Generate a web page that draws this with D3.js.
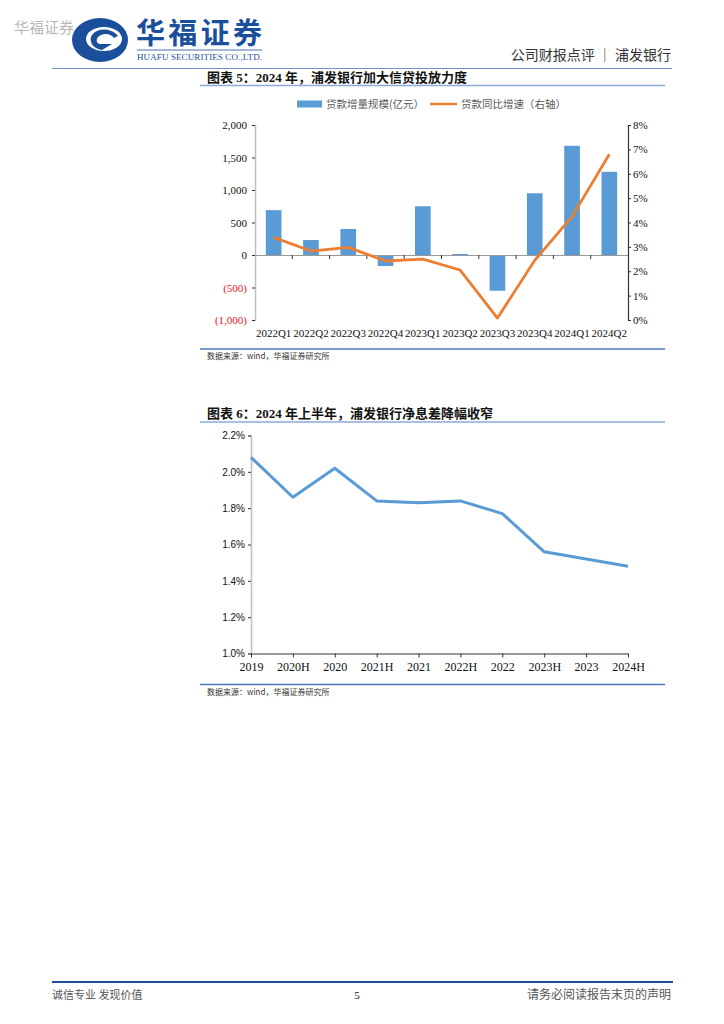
<!DOCTYPE html>
<html><head><meta charset="utf-8">
<script src="https://cdn.jsdelivr.net/npm/d3@7"></script>
<style>
body{margin:0;background:#fff;}
svg{display:block;}
</style></head>
<body>
<svg id="page" width="724" height="1024"></svg>
<script>
// ---------- DATA ----------
const quarters = ["2022Q1","2022Q2","2022Q3","2022Q4","2023Q1","2023Q2","2023Q3","2023Q4","2024Q1","2024Q2"];
const loanIncrease = [690, 230, 400, -170, 750, 15, -550, 950, 1680, 1280]; // 亿元
const loanGrowth = [3.39, 2.83, 2.98, 2.42, 2.50, 2.05, 0.08, 2.45, 4.24, 6.80]; // %
const leftTicks = [-1000, -500, 0, 500, 1000, 1500, 2000];
const rightTicks = [0,1,2,3,4,5,6,7,8];

const periods = ["2019","2020H","2020","2021H","2021","2022H","2022","2023H","2023","2024H"];
const nim = [2.08, 1.86, 2.02, 1.84, 1.83, 1.84, 1.77, 1.56, 1.52, 1.48]; // %
const nimTicks = [1.0,1.2,1.4,1.6,1.8,2.0,2.2];

const svg = d3.select("#page");
const CJK = "'Noto Sans CJK SC', sans-serif";
const SERIF = "'Liberation Serif', 'Times New Roman', 'Noto Sans CJK SC', serif";
const HEAD = "'Liberation Serif', 'Noto Sans CJK SC', serif";

// ---------- HEADER ----------
svg.append("text").attr("x",14).attr("y",33).attr("font-family",CJK).attr("font-size",15)
  .attr("fill","#b8b8b8").text("华福证券");
const logo = svg.append("g");
logo.append("ellipse").attr("cx",100).attr("cy",40).attr("rx",28).attr("ry",22).attr("fill","#1b4f9c");
logo.append("ellipse").attr("cx",104).attr("cy",39).attr("rx",18).attr("ry",12).attr("fill","#fff");
logo.append("path").attr("d","M118,36 C112,28 98,27 92,35 C88,41 93,49 102,50 L112,44 L100,44 C95,43 96,37 101,35 C106,33 111,34 114,38 Z").attr("fill","#1b4f9c");
svg.append("text").attr("x",136).attr("y",44).attr("font-family",CJK).attr("font-weight","bold")
  .attr("font-size",29).attr("fill","#1b4f9c").attr("textLength",126).text("华福证券");
svg.append("line").attr("x1",137).attr("x2",262).attr("y1",50).attr("y2",50).attr("stroke","#1b4f9c").attr("stroke-width",0.8);
svg.append("text").attr("x",137).attr("y",60).attr("font-family",SERIF).attr("font-size",9)
  .attr("fill","#1b4f9c").attr("textLength",125).text("HUAFU SECURITIES CO.,LTD.");
svg.append("text").attr("x",671).attr("y",60).attr("text-anchor","end").attr("font-family",CJK)
  .attr("font-size",14).attr("fill","#333").text("公司财报点评 ｜ 浦发银行");
svg.append("line").attr("x1",52).attr("x2",672).attr("y1",68.5).attr("y2",68.5).attr("stroke","#6f96d4").attr("stroke-width",1.2);

// ---------- CHART 5 ----------
svg.append("text").attr("x",207).attr("y",82).attr("font-family",HEAD).attr("font-weight","bold")
  .attr("font-size",13).attr("fill","#111").text("图表 5：2024 年，浦发银行加大信贷投放力度");
svg.append("line").attr("x1",200).attr("x2",665).attr("y1",85.5).attr("y2",85.5).attr("stroke","#8eaadb").attr("stroke-width",1.5);

// legend
svg.append("rect").attr("x",297).attr("y",100.5).attr("width",25).attr("height",7).attr("fill","#5b9bd5");
svg.append("text").attr("x",326).attr("y",108).attr("font-family",CJK).attr("font-size",10.5).attr("fill","#595959").text("贷款增量规模(亿元）");
svg.append("line").attr("x1",430).attr("x2",457).attr("y1",104).attr("y2",104).attr("stroke","#ed7d31").attr("stroke-width",2.5);
svg.append("text").attr("x",461).attr("y",108).attr("font-family",CJK).attr("font-size",10.5).attr("fill","#595959").text("贷款同比增速（右轴）");

const x1 = d3.scaleBand().domain(quarters).range([255,628]).padding(0);
const yL = d3.scaleLinear().domain([-1000,2000]).range([320,125]);
const yR = d3.scaleLinear().domain([0,8]).range([320,125]);

const g1 = svg.append("g");
// bars
const bw = x1.bandwidth()*0.42;
g1.selectAll("rect.bar").data(quarters).join("rect")
  .attr("x",(d)=>x1(d)+x1.bandwidth()/2-bw/2)
  .attr("y",(d,i)=>yL(Math.max(0,loanIncrease[i])))
  .attr("width",bw)
  .attr("height",(d,i)=>Math.abs(yL(loanIncrease[i])-yL(0)))
  .attr("fill","#5b9bd5");

// left axis
const axL = g1.append("g").attr("transform","translate(255,0)")
  .call(d3.axisLeft(yL).tickValues(leftTicks).tickSize(3).tickPadding(5)
    .tickFormat(v=> v<0 ? "(" + d3.format(",")(-v) + ")" : d3.format(",")(v)));
axL.select(".domain").attr("stroke","#bfbfbf").attr("stroke-width",1.5);
axL.selectAll(".tick line").attr("stroke","#333");
axL.selectAll(".tick text").attr("font-family",SERIF).attr("font-size",11)
  .attr("fill",d=> d<0 ? "#e8141b" : "#111");

// zero line with category ticks
const axX = g1.append("g").attr("transform",`translate(0,${yL(0)})`)
  .call(d3.axisBottom(x1).tickSize(0).tickFormat(""));
axX.select(".domain").attr("stroke","#999").attr("stroke-width",1.2);
g1.selectAll("line.ct").data(quarters.slice(1)).join("line")
  .attr("x1",d=>x1(d)).attr("x2",d=>x1(d)).attr("y1",yL(0)).attr("y2",yL(0)+4)
  .attr("stroke","#333").attr("stroke-width",1);
// x labels at bottom
g1.selectAll("text.xl").data(quarters).join("text")
  .attr("x",d=>x1(d)+x1.bandwidth()/2).attr("y",337).attr("text-anchor","middle")
  .attr("font-family",SERIF).attr("font-size",11).attr("fill","#111").text(d=>d);

// right axis
const axR = g1.append("g").attr("transform","translate(628,0)")
  .call(d3.axisRight(yR).tickValues(rightTicks).tickSize(3).tickPadding(2).tickFormat(v=>v+"%"));
axR.select(".domain").attr("stroke","#333").attr("stroke-width",1.2);
axR.selectAll(".tick line").attr("stroke","#333");
axR.selectAll(".tick text").attr("font-family",SERIF).attr("font-size",11).attr("fill","#111");

// line
g1.append("path").datum(loanGrowth)
  .attr("d",d3.line().x((d,i)=>x1(quarters[i])+x1.bandwidth()/2).y(d=>yR(d)))
  .attr("fill","none").attr("stroke","#ed7d31").attr("stroke-width",2.8).attr("stroke-linejoin","round");

svg.append("line").attr("x1",200).attr("x2",665).attr("y1",349).attr("y2",349).attr("stroke","#4a78c2").attr("stroke-width",1.5);
svg.append("text").attr("x",207).attr("y",359).attr("font-family",CJK).attr("font-size",8).attr("fill","#333").text("数据来源：wind，华福证券研究所");

// ---------- CHART 6 ----------
svg.append("text").attr("x",207).attr("y",418).attr("font-family",HEAD).attr("font-weight","bold")
  .attr("font-size",13).attr("fill","#111").text("图表 6：2024 年上半年，浦发银行净息差降幅收窄");
svg.append("line").attr("x1",200).attr("x2",665).attr("y1",422).attr("y2",422).attr("stroke","#8eaadb").attr("stroke-width",1.5);

const x2 = d3.scalePoint().domain(periods).range([251,628]);
const y2 = d3.scaleLinear().domain([1.0,2.2]).range([653.5,435.5]);
const g2 = svg.append("g");
const ay2 = g2.append("g").attr("transform","translate(251,0)")
  .call(d3.axisLeft(y2).tickValues(nimTicks).tickSize(3).tickPadding(3).tickFormat(v=>v.toFixed(1)+"%"));
ay2.select(".domain").attr("stroke","#bfbfbf").attr("stroke-width",1.5);
ay2.selectAll(".tick line").attr("stroke","#333");
ay2.selectAll(".tick text").attr("font-family","'Liberation Sans', Arial, sans-serif").attr("font-size",10).attr("fill","#111");
const ax2 = g2.append("g").attr("transform","translate(0,653.5)")
  .call(d3.axisBottom(x2).tickSize(4).tickPadding(5).tickSizeOuter(0));
ax2.select(".domain").attr("stroke","#333").attr("stroke-width",1.2);
ax2.selectAll(".tick line").attr("stroke","#333");
ax2.selectAll(".tick text").attr("font-family",SERIF).attr("font-size",12).attr("fill","#111");

g2.append("path").datum(nim)
  .attr("d",d3.line().x((d,i)=>x2(periods[i])).y(d=>y2(d)))
  .attr("fill","none").attr("stroke","#5b9bd5").attr("stroke-width",3).attr("stroke-linejoin","round");

svg.append("line").attr("x1",200).attr("x2",665).attr("y1",684.5).attr("y2",684.5).attr("stroke","#4a78c2").attr("stroke-width",1.5);
svg.append("text").attr("x",207).attr("y",695).attr("font-family",CJK).attr("font-size",8).attr("fill","#333").text("数据来源：wind，华福证券研究所");

// ---------- FOOTER ----------
svg.append("line").attr("x1",52).attr("x2",673).attr("y1",982).attr("y2",982).attr("stroke","#1f4e9a").attr("stroke-width",2);
svg.append("text").attr("x",52).attr("y",999).attr("font-family",CJK).attr("font-size",11).attr("fill","#555").text("诚信专业  发现价值");
svg.append("text").attr("x",357).attr("y",999).attr("text-anchor","middle").attr("font-family",SERIF).attr("font-size",11).attr("fill","#111").text("5");
svg.append("text").attr("x",671).attr("y",999).attr("text-anchor","end").attr("font-family",CJK).attr("font-size",12).attr("fill","#555").text("请务必阅读报告末页的声明");
</script>
</body></html>
